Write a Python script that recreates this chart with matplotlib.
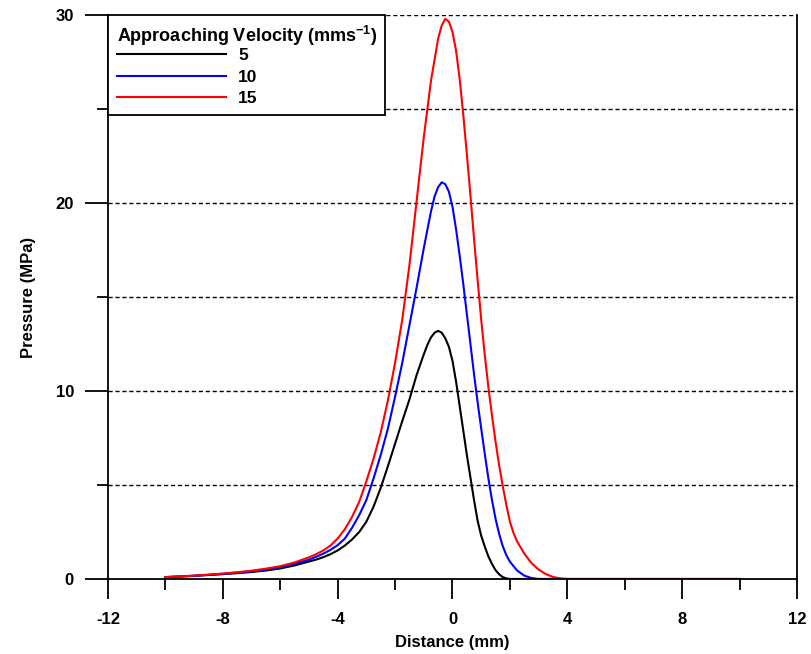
import matplotlib
matplotlib.use("Agg")
import matplotlib.pyplot as plt
from matplotlib.ticker import MultipleLocator

plt.rcParams['font.family'] = ['Liberation Sans', 'DejaVu Sans']
plt.rcParams['font.weight'] = 'bold'
plt.rcParams['axes.labelweight'] = 'bold'
plt.rcParams['axes.unicode_minus'] = False
plt.rcParams['mathtext.fontset'] = 'custom'
plt.rcParams['mathtext.rm'] = 'Liberation Sans:bold'
plt.rcParams['mathtext.it'] = 'Liberation Sans:bold'

# pressure profiles for each approaching velocity (mm/s)
x_v5 = [-10, -9.5, -9, -8.5, -8, -7.5, -7, -6.5, -6, -5.5, -5, -4.75, -4.5, -4.25, -4,
        -3.75, -3.5, -3.25, -3, -2.75, -2.5, -2.25, -2, -1.75, -1.5, -1.25, -1.0, -0.875,
        -0.75, -0.625, -0.5, -0.375, -0.25, -0.125, 0.0, 0.125, 0.25, 0.375, 0.5, 0.625,
        0.75, 0.875, 1.0, 1.125, 1.25, 1.375, 1.5, 1.625, 1.75, 1.875, 2.0, 10]
p_v5 = [0.1, 0.13, 0.17, 0.21, 0.26, 0.31, 0.37, 0.45, 0.56, 0.72, 0.93, 1.03, 1.16, 1.32,
        1.52, 1.78, 2.1, 2.5, 3.05, 3.85, 4.85, 6.0, 7.2, 8.4, 9.55, 10.85, 11.95, 12.45,
        12.85, 13.1, 13.2, 13.1, 12.8, 12.35, 11.6, 10.5, 9.2, 7.9, 6.6, 5.4,
        4.2, 3.1, 2.3, 1.72, 1.2, 0.8, 0.47, 0.25, 0.1, 0.03, 0.0, 0.0]

x_v10 = [-10, -9.5, -9, -8.5, -8, -7.5, -7, -6.5, -6, -5.5, -5, -4.75, -4.5, -4.25, -4,
         -3.75, -3.5, -3.25, -3, -2.75, -2.5, -2.25, -2, -1.75, -1.5, -1.25, -1.0, -0.75,
         -0.625, -0.5, -0.375, -0.25, -0.125, 0.0, 0.125, 0.25, 0.375, 0.5, 0.625, 0.75,
         0.875, 1.0, 1.125, 1.25, 1.375, 1.5, 1.625, 1.75, 1.875, 2.0, 2.25, 2.5, 2.75,
         3.0, 10]
p_v10 = [0.1, 0.13, 0.17, 0.22, 0.27, 0.34, 0.41, 0.51, 0.63, 0.81, 1.03, 1.18, 1.35, 1.55,
         1.8, 2.15, 2.72, 3.4, 4.2, 5.35, 6.6, 8.0, 9.7, 11.5, 13.5, 15.5, 17.6, 19.55,
         20.35, 20.85, 21.1, 21.0, 20.6, 19.8, 18.6, 17.2, 15.7, 14.1, 12.5, 10.9,
         9.4, 8.0, 6.65, 5.35, 4.2, 3.2, 2.4, 1.75, 1.27, 0.92, 0.45, 0.18, 0.05,
         0.0, 0.0]

x_v15 = [-10, -9.5, -9, -8.5, -8, -7.5, -7, -6.5, -6, -5.5, -5, -4.75, -4.5, -4.25, -4,
         -3.75, -3.5, -3.25, -3, -2.75, -2.5, -2.25, -2, -1.75, -1.5, -1.25, -1.0, -0.75,
         -0.5, -0.375, -0.25, -0.125, 0.0, 0.125, 0.25, 0.375, 0.5, 0.625, 0.75, 0.875,
         1.0, 1.125, 1.25, 1.375, 1.5, 1.625, 1.75, 1.875, 2.0, 2.125, 2.25, 2.5, 2.75,
         3.0, 3.25, 3.5, 3.75, 4.0, 10]
p_v15 = [0.1, 0.14, 0.18, 0.23, 0.29, 0.36, 0.44, 0.55, 0.68, 0.88, 1.15, 1.32, 1.52, 1.78,
         2.15, 2.65, 3.3, 4.1, 5.2, 6.4, 7.8, 9.5, 11.5, 13.8, 16.7, 20.1, 23.5, 26.5,
         28.75, 29.45, 29.8, 29.65, 29.1, 28.1, 26.6, 24.7, 22.6, 20.4, 18.1, 15.9,
         13.8, 11.9, 10.2, 8.7, 7.3, 6.05, 4.95, 3.95, 3.05, 2.45, 2.0, 1.35, 0.85,
         0.5, 0.26, 0.11, 0.03, 0.0, 0.0]

fig = plt.figure(figsize=(8.11, 6.54), dpi=100)
ax = fig.add_axes([0.1332, 0.1147, 0.8495, 0.8623])

ax.plot(x_v5, p_v5, color='black', lw=1.5, label='5')
ax.plot(x_v10, p_v10, color='#0000ff', lw=1.5, label='10')
ax.plot(x_v15, p_v15, color='#ff0000', lw=1.5, label='15')

ax.set_xlim(-12, 12)
ax.set_ylim(0, 30)
ax.xaxis.set_major_locator(MultipleLocator(4))
ax.xaxis.set_minor_locator(MultipleLocator(2))
ax.yaxis.set_major_locator(MultipleLocator(10))
ax.yaxis.set_minor_locator(MultipleLocator(5))

# dashed horizontal guides every 5 MPa
for yv in range(5, 31, 5):
    ax.axhline(yv, color='black', lw=1.0, ls=(0, (3, 2)), zorder=0.5)

ax.spines['top'].set_visible(False)
for s in ['left', 'right', 'bottom']:
    ax.spines[s].set_linewidth(1.3)

ax.tick_params(axis='x', which='major', direction='out', length=14.5, width=1.3,
               labelsize=12, pad=9)
ax.tick_params(axis='x', which='minor', direction='out', length=8, width=1.3)
ax.tick_params(axis='y', which='major', direction='out', length=16.5, width=1.3,
               labelsize=12, pad=8)
ax.tick_params(axis='y', which='minor', direction='out', length=8, width=1.3)

ax.set_xlabel('Distance (mm)', fontsize=12, labelpad=6)
ax.set_ylabel('Pressure (MPa)', fontsize=12, labelpad=14)

leg = ax.legend(title=r'Approaching Velocity (mms$^{-1}$)', loc='upper left',
                bbox_to_anchor=(0, 1), borderaxespad=0,
                prop={'size': 12.5, 'weight': 'bold'},
                title_fontproperties={'size': 13, 'weight': 'bold'},
                fancybox=False, framealpha=1, edgecolor='black',
                handlelength=6.3, handletextpad=0.7, labelspacing=0.38,
                borderpad=0.5, alignment='left')
# pull the entries closer to the title
leg._legend_box.sep = 0
leg.get_frame().set_linewidth(1.3)

fig.savefig('out.png', dpi=100)
